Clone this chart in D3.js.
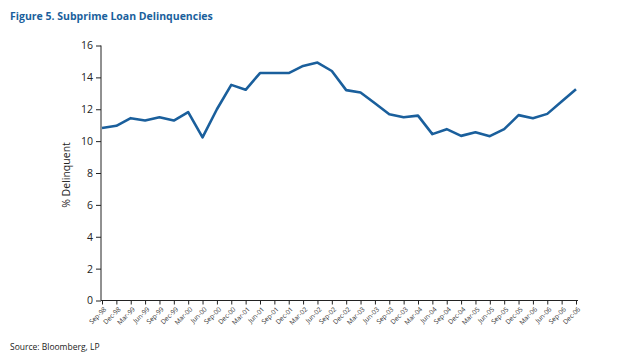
<!DOCTYPE html>
<html><head><meta charset="utf-8">
<script src="https://cdn.jsdelivr.net/npm/d3@7"></script>
<style>body{margin:0;background:#fff}svg{display:block}</style>
</head><body>
<svg id="c" width="622" height="360"></svg>
<script>
const categories = ["Sep-98","Dec-98","Mar-99","Jun-99","Sep-99","Dec-99","Mar-00","Jun-00","Sep-00","Dec-00",
"Mar-01","Jun-01","Sep-01","Dec-01","Mar-02","Jun-02","Sep-02","Dec-02","Mar-03","Jun-03","Sep-03","Dec-03",
"Mar-04","Jun-04","Sep-04","Dec-04","Mar-05","Jun-05","Sep-05","Dec-05","Mar-06","Jun-06","Sep-06","Dec-06"];
const delinquent = [10.82,10.96,11.44,11.29,11.5,11.29,11.82,10.23,12.0,13.53,
13.22,14.27,14.27,14.27,14.72,14.93,14.4,13.2,13.05,12.38,11.69,11.5,
11.6,10.44,10.75,10.33,10.56,10.31,10.75,11.63,11.44,11.71,12.48,13.26];
const yTicks = [0,2,4,6,8,10,12,14,16];

const svg = d3.select("#c");
const blue = "#1a5f9c";
const x = d3.scalePoint().domain(categories).range([102, 576]);
const y = d3.scaleLinear().domain([0,16]).range([300.5, 45.5]);

svg.append("text").attr("x",10).attr("y",20)
  .attr("font-family","Open Sans, sans-serif").attr("font-weight","bold").attr("font-size",10.5)
  .attr("fill",blue).text("Figure 5. Subprime Loan Delinquencies");

const ya = svg.append("g").attr("transform","translate(101,0)")
  .call(d3.axisLeft(y).tickValues(yTicks).tickSize(5).tickPadding(3).tickFormat(d3.format("d")));
ya.selectAll("text").attr("font-family","Open Sans, sans-serif").attr("font-size",10.5).attr("fill","#222");
ya.selectAll("line,path").attr("stroke","#222");
ya.select(".domain").attr("d","M0,45.5V300.5");

const xa = svg.append("g").attr("transform","translate(0,300.5)")
  .call(d3.axisBottom(x).tickSize(4).tickPadding(2));
xa.select(".domain").attr("d","M101,0H578").attr("stroke","#222");
xa.selectAll("line").attr("stroke","#222");
xa.selectAll("text").attr("font-family","Open Sans, sans-serif").attr("font-size",6.6).attr("fill","#333")
  .attr("text-anchor","end").attr("dy",0)
  .attr("transform","translate(0,5) rotate(-45)");

svg.append("text").attr("transform","translate(70,175) rotate(-90)").attr("text-anchor","middle")
  .attr("font-family","Open Sans, sans-serif").attr("font-size",10.5).attr("fill","#222").text("% Delinquent");

const line = d3.line().x((d,i)=>x(categories[i])).y(d=>y(d));
svg.append("path").datum(delinquent).attr("d",line).attr("fill","none")
  .attr("stroke",blue).attr("stroke-width",2.6).attr("stroke-linejoin","round");

svg.append("text").attr("x",10).attr("y",350).attr("font-family","Open Sans, sans-serif")
  .attr("font-size",8.5).attr("fill","#222").text("Source: Bloomberg, LP");
</script>
</body></html>
